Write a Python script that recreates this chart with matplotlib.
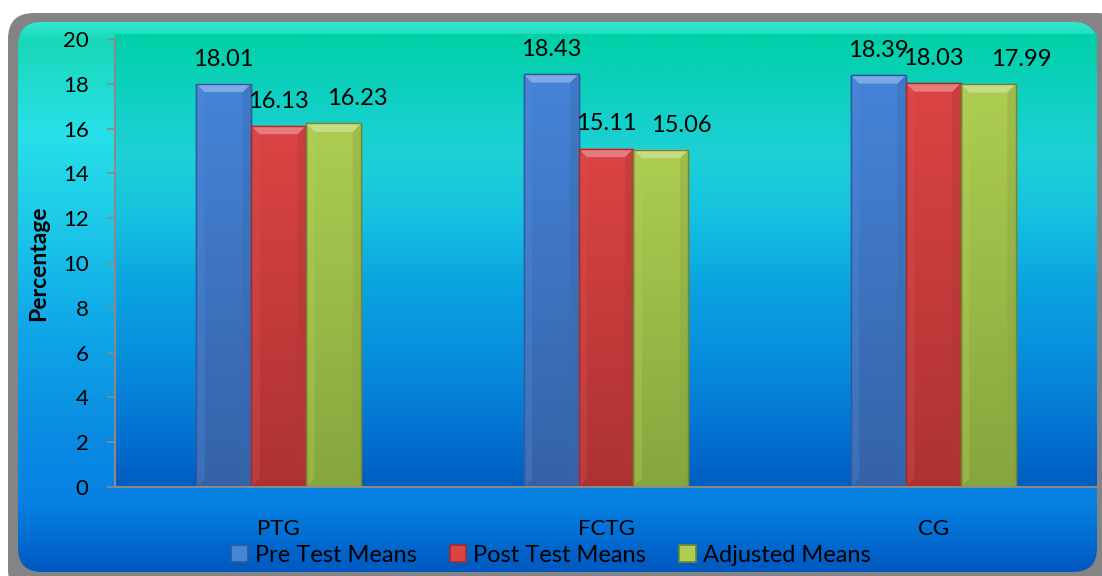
import matplotlib
matplotlib.use("Agg")
import matplotlib.pyplot as plt
import numpy as np
from matplotlib.patches import FancyBboxPatch, Polygon, Patch
from matplotlib.colors import LinearSegmentedColormap, to_rgb

plt.rcParams['font.family'] = ['Lato', 'DejaVu Sans']

categories = ["PTG", "FCTG", "CG"]
series_names = ["Pre Test Means", "Post Test Means", "Adjusted Means"]
pre_test = [18.01, 18.43, 18.39]
post_test = [16.13, 15.11, 18.03]
adjusted = [16.23, 15.06, 17.99]
y_ticks = [0, 2, 4, 6, 8, 10, 12, 14, 16, 18, 20]

series = [pre_test, post_test, adjusted]
top_cols = ["#4684d8", "#dc4444", "#aecd52"]
bot_cols = ["#3462a6", "#ac3232", "#86a63e"]
edge_cols = ["#2c5a9a", "#a02c2c", "#6e8a2e"]
# horizontal label nudges (points), as placed by the original chart to avoid overlaps
label_dx = [[0, 0, 0], [0, 0, 0], [17, 14.5, 24]]

W, H = 1102, 576
fig = plt.figure(figsize=(W / 100, H / 100), dpi=100)

# background / chart area
bg = fig.add_axes([0, 0, 1, 1], zorder=-10)
grad = np.linspace(0, 1, 256).reshape(-1, 1)
chart_cmap = LinearSegmentedColormap.from_list("chart", [
    (0.0, "#30e8d0"), (0.03, "#18d8b8"), (0.2, "#28e0e8"), (0.35, "#1ecbe8"),
    (0.55, "#10a8e8"), (0.75, "#0a8ce2"), (0.88, "#0680e2"), (1.0, "#0058c0")])
im = bg.imshow(grad, cmap=chart_cmap, extent=[18, 1097, 572, 22], aspect='auto',
               origin='upper', zorder=2)
bg.set_xlim(0, W)
bg.set_ylim(H, 0)
bg.axis('off')
outer = FancyBboxPatch((8 + 26, 13 + 26), W - 8 - 52 + 20, H - 13 - 52 + 20,
                       boxstyle="round,pad=26", fc="#848484", ec="none", zorder=1)
bg.add_patch(outer)
inner = FancyBboxPatch((18 + 24, 22 + 24), 1097 - 18 - 48, 572 - 22 - 48,
                       boxstyle="round,pad=24", fc="none", ec="none", zorder=0)
bg.add_patch(inner)
im.set_clip_path(inner)

# plot area
ax = fig.add_axes([115 / W, 1 - 487 / H, 982 / W, 448 / H])
ax.patch.set_alpha(0)
plot_cmap = LinearSegmentedColormap.from_list("plot", [
    (0.0, "#00d0a6"), (0.15, "#10d0c4"), (0.27, "#1ed0d8"), (0.4, "#16c2e0"),
    (0.55, "#0aa4e0"), (0.7, "#0890de"), (0.85, "#0478d4"), (1.0, "#005cc0")])
ax.imshow(grad, cmap=plot_cmap, extent=[-0.5, 2.5, 0, 20.2], aspect='auto',
          origin='upper', zorder=0, clip_on=False)
ax.set_ylim(0, 20)
ax.set_xlim(-0.5, 2.5)

bw = 0.168
x = np.arange(len(categories))
bdx, bdy = 0.026, 0.38


def lighten(c, f):
    r = np.array(to_rgb(c))
    return tuple(r + (1 - r) * f)


def darken(c, f):
    r = np.array(to_rgb(c))
    return tuple(r * (1 - f))


for j, vals in enumerate(series):
    xs = x + (j - 1) * bw
    bars = ax.bar(xs, vals, width=bw, color=top_cols[j], edgecolor=edge_cols[j],
                  linewidth=1.0, zorder=3)
    cm = LinearSegmentedColormap.from_list("b%d" % j, [top_cols[j], bot_cols[j]])
    for k, (b, v) in enumerate(zip(bars, vals)):
        x0, w, h = b.get_x(), b.get_width(), b.get_height()
        gi = ax.imshow(grad, cmap=cm, extent=[x0, x0 + w, 0, h], aspect='auto',
                       origin='upper', zorder=3.1)
        gi.set_clip_path(b)
        top = Polygon([(x0, h), (x0 + w, h), (x0 + w - bdx, h - bdy), (x0 + bdx, h - bdy)],
                      closed=True, fc=lighten(top_cols[j], 0.3), ec='none', zorder=3.2)
        left = Polygon([(x0, h), (x0 + bdx, h - bdy), (x0 + bdx, bdy), (x0, 0)],
                       closed=True, fc=lighten(top_cols[j], 0.05), ec='none', alpha=0.35, zorder=3.2)
        right = Polygon([(x0 + w, h), (x0 + w - bdx, h - bdy), (x0 + w - bdx, bdy), (x0 + w, 0)],
                        closed=True, fc=darken(top_cols[j], 0.2), ec='none', alpha=0.4, zorder=3.2)
        for p in (left, right, top):
            ax.add_patch(p)
        edge = plt.Rectangle((x0, 0), w, h, fc='none', ec=edge_cols[j], lw=1.0, zorder=3.3)
        ax.add_patch(edge)
        ax.annotate(f"{v:.2f}", (x0 + w / 2, h), xytext=(label_dx[j][k], 13),
                    textcoords='offset points', ha='center', va='baseline',
                    fontsize=17, color='black', zorder=5)

ax.set_yticks(y_ticks)
ax.set_yticklabels([str(t) for t in y_ticks], fontsize=16)
ax.tick_params(axis='y', length=6, width=1.2, color='#8a8a8a', direction='out', pad=13)
ax.set_xticks(x)
ax.set_xticklabels(categories, fontsize=16)
ax.tick_params(axis='x', length=0, pad=23)
for s in ['top', 'right']:
    ax.spines[s].set_visible(False)
for s in ['left', 'bottom']:
    ax.spines[s].set_color('#8a8a8a')
    ax.spines[s].set_linewidth(1.5)
ax.spines['bottom'].set_zorder(4)
ax.set_ylabel("Percentage", fontsize=16.5, fontweight='bold', labelpad=10)

handles = [Patch(facecolor=top_cols[j], edgecolor=edge_cols[j], linewidth=1.2)
           for j in range(3)]
fig.legend(handles, series_names, loc='center', bbox_to_anchor=(0.5, 1 - 555 / H),
           ncol=3, frameon=False, fontsize=17, handlelength=0.7, handleheight=0.7,
           handletextpad=0.3, columnspacing=1.4, borderpad=0)

fig.savefig("out.png", dpi=100)
